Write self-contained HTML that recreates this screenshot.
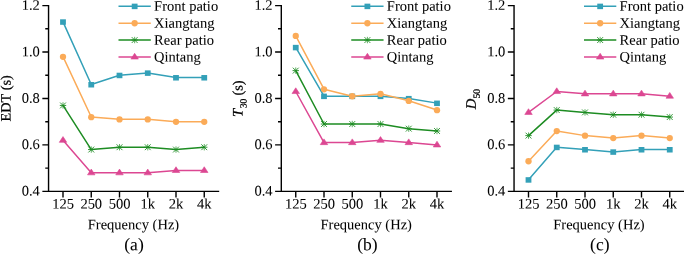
<!DOCTYPE html><html><head><meta charset="utf-8"><style>html,body{margin:0;padding:0;background:#fff;width:685px;height:254px;overflow:hidden}svg{display:block;will-change:transform}text{font-family:"Liberation Serif",serif;font-kerning:none;text-rendering:geometricPrecision}</style></head><body><svg width="685" height="254" viewBox="0 0 685 254"><g><path d="M63 21.85L91.25 84.54L119.5 75.26L147.75 72.93L176 77.58L204.25 77.58" stroke="#33a0b8" stroke-width="1.5" fill="none" stroke-linejoin="round"/><rect x="60.1" y="19.3" width="5.8" height="5.5" fill="#33a0b8"/><rect x="88.35" y="81.99" width="5.8" height="5.5" fill="#33a0b8"/><rect x="116.6" y="72.71" width="5.8" height="5.5" fill="#33a0b8"/><rect x="144.85" y="70.38" width="5.8" height="5.5" fill="#33a0b8"/><rect x="173.1" y="75.03" width="5.8" height="5.5" fill="#33a0b8"/><rect x="201.35" y="75.03" width="5.8" height="5.5" fill="#33a0b8"/><path d="M63 56.68L91.25 117.05L119.5 119.37L147.75 119.37L176 121.69L204.25 121.69" stroke="#fbab58" stroke-width="1.5" fill="none" stroke-linejoin="round"/><circle cx="63" cy="56.78" r="3.15" fill="#fbab58"/><circle cx="91.25" cy="117.15" r="3.15" fill="#fbab58"/><circle cx="119.5" cy="119.47" r="3.15" fill="#fbab58"/><circle cx="147.75" cy="119.47" r="3.15" fill="#fbab58"/><circle cx="176" cy="121.79" r="3.15" fill="#fbab58"/><circle cx="204.25" cy="121.79" r="3.15" fill="#fbab58"/><path d="M63 105.44L91.25 149.56L119.5 147.23L147.75 147.23L176 149.56L204.25 147.23" stroke="#1d8c22" stroke-width="1.5" fill="none" stroke-linejoin="round"/><path d="M59.8 105.44H66.2M60.1 102.54L65.9 108.34M60.1 108.34L65.9 102.54" stroke="#1d8c22" stroke-width="0.9" fill="none"/><path d="M63 102.24V108.64" stroke="#1d8c22" stroke-width="0.7"/><path d="M88.05 149.56H94.45M88.35 146.66L94.15 152.46M88.35 152.46L94.15 146.66" stroke="#1d8c22" stroke-width="0.9" fill="none"/><path d="M91.25 146.36V152.76" stroke="#1d8c22" stroke-width="0.7"/><path d="M116.3 147.23H122.7M116.6 144.33L122.4 150.13M116.6 150.13L122.4 144.33" stroke="#1d8c22" stroke-width="0.9" fill="none"/><path d="M119.5 144.03V150.43" stroke="#1d8c22" stroke-width="0.7"/><path d="M144.55 147.23H150.95M144.85 144.33L150.65 150.13M144.85 150.13L150.65 144.33" stroke="#1d8c22" stroke-width="0.9" fill="none"/><path d="M147.75 144.03V150.43" stroke="#1d8c22" stroke-width="0.7"/><path d="M172.8 149.56H179.2M173.1 146.66L178.9 152.46M173.1 152.46L178.9 146.66" stroke="#1d8c22" stroke-width="0.9" fill="none"/><path d="M176 146.36V152.76" stroke="#1d8c22" stroke-width="0.7"/><path d="M201.05 147.23H207.45M201.35 144.33L207.15 150.13M201.35 150.13L207.15 144.33" stroke="#1d8c22" stroke-width="0.9" fill="none"/><path d="M204.25 144.03V150.43" stroke="#1d8c22" stroke-width="0.7"/><path d="M63 140.27L91.25 172.78L119.5 172.78L147.75 172.78L176 170.45L204.25 170.45" stroke="#dc4792" stroke-width="1.5" fill="none" stroke-linejoin="round"/><path d="M63 136.57L66.75 142.32L59.25 142.32Z" fill="#dc4792" stroke="#dc4792" stroke-width="0.6" stroke-linejoin="round"/><path d="M91.25 169.08L95 174.83L87.5 174.83Z" fill="#dc4792" stroke="#dc4792" stroke-width="0.6" stroke-linejoin="round"/><path d="M119.5 169.08L123.25 174.83L115.75 174.83Z" fill="#dc4792" stroke="#dc4792" stroke-width="0.6" stroke-linejoin="round"/><path d="M147.75 169.08L151.5 174.83L144 174.83Z" fill="#dc4792" stroke="#dc4792" stroke-width="0.6" stroke-linejoin="round"/><path d="M176 166.75L179.75 172.5L172.25 172.5Z" fill="#dc4792" stroke="#dc4792" stroke-width="0.6" stroke-linejoin="round"/><path d="M204.25 166.75L208 172.5L200.5 172.5Z" fill="#dc4792" stroke="#dc4792" stroke-width="0.6" stroke-linejoin="round"/><path d="M48.55 4.9V191.35H219.2" stroke="#000" stroke-width="1.4" fill="none"/><path d="M42.35 191.35H48.55M45.25 168.13H48.55M42.35 144.91H48.55M45.25 121.69H48.55M42.35 98.47H48.55M45.25 75.26H48.55M42.35 52.04H48.55M45.25 28.82H48.55M42.35 5.6H48.55M63 191.35V197.55M91.25 191.35V197.55M119.5 191.35V197.55M147.75 191.35V197.55M176 191.35V197.55M204.25 191.35V197.55" stroke="#000" stroke-width="1.4" fill="none"/><path d="M118.5 6.2H150.8" stroke="#33a0b8" stroke-width="1.5"/><rect x="131.75" y="3.65" width="5.8" height="5.5" fill="#33a0b8"/><path d="M118.5 23.15H150.8" stroke="#fbab58" stroke-width="1.5"/><circle cx="134.65" cy="23.25" r="3.15" fill="#fbab58"/><path d="M118.5 40.05H150.8" stroke="#1d8c22" stroke-width="1.5"/><path d="M131.45 40.05H137.85M131.75 37.15L137.55 42.95M131.75 42.95L137.55 37.15" stroke="#1d8c22" stroke-width="0.9" fill="none"/><path d="M134.65 36.85V43.25" stroke="#1d8c22" stroke-width="0.7"/><path d="M118.5 57H150.8" stroke="#dc4792" stroke-width="1.5"/><path d="M134.65 53.3L138.4 59.05L130.9 59.05Z" fill="#dc4792" stroke="#dc4792" stroke-width="0.6" stroke-linejoin="round"/></g><g fill="#000" stroke="#000" stroke-width="0.05"><text x="39.85" y="195.55" font-size="14.5" text-anchor="end" transform="rotate(0.05 39.85 195.55)">0.4</text><text x="39.85" y="149.11" font-size="14.5" text-anchor="end" transform="rotate(0.05 39.85 149.11)">0.6</text><text x="39.85" y="102.67" font-size="14.5" text-anchor="end" transform="rotate(0.05 39.85 102.67)">0.8</text><text x="39.85" y="56.24" font-size="14.5" text-anchor="end" transform="rotate(0.05 39.85 56.24)">1.0</text><text x="39.85" y="9.8" font-size="14.5" text-anchor="end" transform="rotate(0.05 39.85 9.8)">1.2</text><text x="63" y="208.5" font-size="14.5" text-anchor="middle" transform="rotate(0.05 63 208.5)">125</text><text x="91.25" y="208.5" font-size="14.5" text-anchor="middle" transform="rotate(0.05 91.25 208.5)">250</text><text x="119.5" y="208.5" font-size="14.5" text-anchor="middle" transform="rotate(0.05 119.5 208.5)">500</text><text x="147.75" y="208.5" font-size="14.5" text-anchor="middle" transform="rotate(0.05 147.75 208.5)">1k</text><text x="176" y="208.5" font-size="14.5" text-anchor="middle" transform="rotate(0.05 176 208.5)">2k</text><text x="204.25" y="208.5" font-size="14.5" text-anchor="middle" transform="rotate(0.05 204.25 208.5)">4k</text><text x="133.47" y="229.2" font-size="14.5" text-anchor="middle" transform="rotate(0.05 133.47 229.2)">Frequency (Hz)</text><text x="134.03" y="250.3" font-size="17.5" text-anchor="middle" transform="rotate(0.05 134.03 250.3)">(a)</text><text x="154.1" y="10.7" font-size="14.5" transform="rotate(0.05 154.1 10.7)">Front patio</text><text x="154.1" y="27.7" font-size="14.5" transform="rotate(0.05 154.1 27.7)">Xiangtang</text><text x="154.1" y="44.7" font-size="14.5" transform="rotate(0.05 154.1 44.7)">Rear patio</text><text x="154.1" y="61.6" font-size="14.5" transform="rotate(0.05 154.1 61.6)">Qintang</text></g><g><path d="M295.75 47.39L324 96.15L352.25 96.15L380.5 96.15L408.75 98.47L437 103.12" stroke="#33a0b8" stroke-width="1.5" fill="none" stroke-linejoin="round"/><rect x="292.85" y="44.84" width="5.8" height="5.5" fill="#33a0b8"/><rect x="321.1" y="93.6" width="5.8" height="5.5" fill="#33a0b8"/><rect x="349.35" y="93.6" width="5.8" height="5.5" fill="#33a0b8"/><rect x="377.6" y="93.6" width="5.8" height="5.5" fill="#33a0b8"/><rect x="405.85" y="95.92" width="5.8" height="5.5" fill="#33a0b8"/><rect x="434.1" y="100.57" width="5.8" height="5.5" fill="#33a0b8"/><path d="M295.75 35.78L324 89.19L352.25 96.15L380.5 93.83L408.75 100.8L437 110.08" stroke="#fbab58" stroke-width="1.5" fill="none" stroke-linejoin="round"/><circle cx="295.75" cy="35.88" r="3.15" fill="#fbab58"/><circle cx="324" cy="89.29" r="3.15" fill="#fbab58"/><circle cx="352.25" cy="96.25" r="3.15" fill="#fbab58"/><circle cx="380.5" cy="93.93" r="3.15" fill="#fbab58"/><circle cx="408.75" cy="100.9" r="3.15" fill="#fbab58"/><circle cx="437" cy="110.18" r="3.15" fill="#fbab58"/><path d="M295.75 70.61L324 124.02L352.25 124.02L380.5 124.02L408.75 128.66L437 130.98" stroke="#1d8c22" stroke-width="1.5" fill="none" stroke-linejoin="round"/><path d="M292.55 70.61H298.95M292.85 67.71L298.65 73.51M292.85 73.51L298.65 67.71" stroke="#1d8c22" stroke-width="0.9" fill="none"/><path d="M295.75 67.41V73.81" stroke="#1d8c22" stroke-width="0.7"/><path d="M320.8 124.02H327.2M321.1 121.12L326.9 126.92M321.1 126.92L326.9 121.12" stroke="#1d8c22" stroke-width="0.9" fill="none"/><path d="M324 120.82V127.22" stroke="#1d8c22" stroke-width="0.7"/><path d="M349.05 124.02H355.45M349.35 121.12L355.15 126.92M349.35 126.92L355.15 121.12" stroke="#1d8c22" stroke-width="0.9" fill="none"/><path d="M352.25 120.82V127.22" stroke="#1d8c22" stroke-width="0.7"/><path d="M377.3 124.02H383.7M377.6 121.12L383.4 126.92M377.6 126.92L383.4 121.12" stroke="#1d8c22" stroke-width="0.9" fill="none"/><path d="M380.5 120.82V127.22" stroke="#1d8c22" stroke-width="0.7"/><path d="M405.55 128.66H411.95M405.85 125.76L411.65 131.56M405.85 131.56L411.65 125.76" stroke="#1d8c22" stroke-width="0.9" fill="none"/><path d="M408.75 125.46V131.86" stroke="#1d8c22" stroke-width="0.7"/><path d="M433.8 130.98H440.2M434.1 128.08L439.9 133.88M434.1 133.88L439.9 128.08" stroke="#1d8c22" stroke-width="0.9" fill="none"/><path d="M437 127.78V134.18" stroke="#1d8c22" stroke-width="0.7"/><path d="M295.75 91.51L324 142.59L352.25 142.59L380.5 140.27L408.75 142.59L437 144.91" stroke="#dc4792" stroke-width="1.5" fill="none" stroke-linejoin="round"/><path d="M295.75 87.81L299.5 93.56L292 93.56Z" fill="#dc4792" stroke="#dc4792" stroke-width="0.6" stroke-linejoin="round"/><path d="M324 138.89L327.75 144.64L320.25 144.64Z" fill="#dc4792" stroke="#dc4792" stroke-width="0.6" stroke-linejoin="round"/><path d="M352.25 138.89L356 144.64L348.5 144.64Z" fill="#dc4792" stroke="#dc4792" stroke-width="0.6" stroke-linejoin="round"/><path d="M380.5 136.57L384.25 142.32L376.75 142.32Z" fill="#dc4792" stroke="#dc4792" stroke-width="0.6" stroke-linejoin="round"/><path d="M408.75 138.89L412.5 144.64L405 144.64Z" fill="#dc4792" stroke="#dc4792" stroke-width="0.6" stroke-linejoin="round"/><path d="M437 141.21L440.75 146.96L433.25 146.96Z" fill="#dc4792" stroke="#dc4792" stroke-width="0.6" stroke-linejoin="round"/><path d="M281.3 4.9V191.35H451.95" stroke="#000" stroke-width="1.4" fill="none"/><path d="M275.1 191.35H281.3M278 168.13H281.3M275.1 144.91H281.3M278 121.69H281.3M275.1 98.47H281.3M278 75.26H281.3M275.1 52.04H281.3M278 28.82H281.3M275.1 5.6H281.3M295.75 191.35V197.55M324 191.35V197.55M352.25 191.35V197.55M380.5 191.35V197.55M408.75 191.35V197.55M437 191.35V197.55" stroke="#000" stroke-width="1.4" fill="none"/><path d="M351.25 6.2H383.55" stroke="#33a0b8" stroke-width="1.5"/><rect x="364.5" y="3.65" width="5.8" height="5.5" fill="#33a0b8"/><path d="M351.25 23.15H383.55" stroke="#fbab58" stroke-width="1.5"/><circle cx="367.4" cy="23.25" r="3.15" fill="#fbab58"/><path d="M351.25 40.05H383.55" stroke="#1d8c22" stroke-width="1.5"/><path d="M364.2 40.05H370.6M364.5 37.15L370.3 42.95M364.5 42.95L370.3 37.15" stroke="#1d8c22" stroke-width="0.9" fill="none"/><path d="M367.4 36.85V43.25" stroke="#1d8c22" stroke-width="0.7"/><path d="M351.25 57H383.55" stroke="#dc4792" stroke-width="1.5"/><path d="M367.4 53.3L371.15 59.05L363.65 59.05Z" fill="#dc4792" stroke="#dc4792" stroke-width="0.6" stroke-linejoin="round"/></g><g fill="#000" stroke="#000" stroke-width="0.05"><text x="272.6" y="195.55" font-size="14.5" text-anchor="end" transform="rotate(0.05 272.6 195.55)">0.4</text><text x="272.6" y="149.11" font-size="14.5" text-anchor="end" transform="rotate(0.05 272.6 149.11)">0.6</text><text x="272.6" y="102.67" font-size="14.5" text-anchor="end" transform="rotate(0.05 272.6 102.67)">0.8</text><text x="272.6" y="56.24" font-size="14.5" text-anchor="end" transform="rotate(0.05 272.6 56.24)">1.0</text><text x="272.6" y="9.8" font-size="14.5" text-anchor="end" transform="rotate(0.05 272.6 9.8)">1.2</text><text x="295.75" y="208.5" font-size="14.5" text-anchor="middle" transform="rotate(0.05 295.75 208.5)">125</text><text x="324" y="208.5" font-size="14.5" text-anchor="middle" transform="rotate(0.05 324 208.5)">250</text><text x="352.25" y="208.5" font-size="14.5" text-anchor="middle" transform="rotate(0.05 352.25 208.5)">500</text><text x="380.5" y="208.5" font-size="14.5" text-anchor="middle" transform="rotate(0.05 380.5 208.5)">1k</text><text x="408.75" y="208.5" font-size="14.5" text-anchor="middle" transform="rotate(0.05 408.75 208.5)">2k</text><text x="437" y="208.5" font-size="14.5" text-anchor="middle" transform="rotate(0.05 437 208.5)">4k</text><text x="366.23" y="229.2" font-size="14.5" text-anchor="middle" transform="rotate(0.05 366.23 229.2)">Frequency (Hz)</text><text x="367.43" y="250.3" font-size="17.5" text-anchor="middle" transform="rotate(0.05 367.43 250.3)">(b)</text><text x="386.85" y="10.7" font-size="14.5" transform="rotate(0.05 386.85 10.7)">Front patio</text><text x="386.85" y="27.7" font-size="14.5" transform="rotate(0.05 386.85 27.7)">Xiangtang</text><text x="386.85" y="44.7" font-size="14.5" transform="rotate(0.05 386.85 44.7)">Rear patio</text><text x="386.85" y="61.6" font-size="14.5" transform="rotate(0.05 386.85 61.6)">Qintang</text></g><g><path d="M528.5 179.74L556.75 147.23L585 149.56L613.25 151.88L641.5 149.56L669.75 149.56" stroke="#33a0b8" stroke-width="1.5" fill="none" stroke-linejoin="round"/><rect x="525.6" y="177.19" width="5.8" height="5.5" fill="#33a0b8"/><rect x="553.85" y="144.68" width="5.8" height="5.5" fill="#33a0b8"/><rect x="582.1" y="147.01" width="5.8" height="5.5" fill="#33a0b8"/><rect x="610.35" y="149.33" width="5.8" height="5.5" fill="#33a0b8"/><rect x="638.6" y="147.01" width="5.8" height="5.5" fill="#33a0b8"/><rect x="666.85" y="147.01" width="5.8" height="5.5" fill="#33a0b8"/><path d="M528.5 161.17L556.75 130.98L585 135.62L613.25 137.95L641.5 135.62L669.75 137.95" stroke="#fbab58" stroke-width="1.5" fill="none" stroke-linejoin="round"/><circle cx="528.5" cy="161.27" r="3.15" fill="#fbab58"/><circle cx="556.75" cy="131.08" r="3.15" fill="#fbab58"/><circle cx="585" cy="135.72" r="3.15" fill="#fbab58"/><circle cx="613.25" cy="138.05" r="3.15" fill="#fbab58"/><circle cx="641.5" cy="135.72" r="3.15" fill="#fbab58"/><circle cx="669.75" cy="138.05" r="3.15" fill="#fbab58"/><path d="M528.5 135.62L556.75 110.08L585 112.41L613.25 114.73L641.5 114.73L669.75 117.05" stroke="#1d8c22" stroke-width="1.5" fill="none" stroke-linejoin="round"/><path d="M525.3 135.62H531.7M525.6 132.72L531.4 138.53M525.6 138.53L531.4 132.72" stroke="#1d8c22" stroke-width="0.9" fill="none"/><path d="M528.5 132.43V138.82" stroke="#1d8c22" stroke-width="0.7"/><path d="M553.55 110.08H559.95M553.85 107.18L559.65 112.98M553.85 112.98L559.65 107.18" stroke="#1d8c22" stroke-width="0.9" fill="none"/><path d="M556.75 106.88V113.28" stroke="#1d8c22" stroke-width="0.7"/><path d="M581.8 112.41H588.2M582.1 109.51L587.9 115.31M582.1 115.31L587.9 109.51" stroke="#1d8c22" stroke-width="0.9" fill="none"/><path d="M585 109.21V115.61" stroke="#1d8c22" stroke-width="0.7"/><path d="M610.05 114.73H616.45M610.35 111.83L616.15 117.63M610.35 117.63L616.15 111.83" stroke="#1d8c22" stroke-width="0.9" fill="none"/><path d="M613.25 111.53V117.93" stroke="#1d8c22" stroke-width="0.7"/><path d="M638.3 114.73H644.7M638.6 111.83L644.4 117.63M638.6 117.63L644.4 111.83" stroke="#1d8c22" stroke-width="0.9" fill="none"/><path d="M641.5 111.53V117.93" stroke="#1d8c22" stroke-width="0.7"/><path d="M666.55 117.05H672.95M666.85 114.15L672.65 119.95M666.85 119.95L672.65 114.15" stroke="#1d8c22" stroke-width="0.9" fill="none"/><path d="M669.75 113.85V120.25" stroke="#1d8c22" stroke-width="0.7"/><path d="M528.5 112.41L556.75 91.51L585 93.83L613.25 93.83L641.5 93.83L669.75 96.15" stroke="#dc4792" stroke-width="1.5" fill="none" stroke-linejoin="round"/><path d="M528.5 108.71L532.25 114.46L524.75 114.46Z" fill="#dc4792" stroke="#dc4792" stroke-width="0.6" stroke-linejoin="round"/><path d="M556.75 87.81L560.5 93.56L553 93.56Z" fill="#dc4792" stroke="#dc4792" stroke-width="0.6" stroke-linejoin="round"/><path d="M585 90.13L588.75 95.88L581.25 95.88Z" fill="#dc4792" stroke="#dc4792" stroke-width="0.6" stroke-linejoin="round"/><path d="M613.25 90.13L617 95.88L609.5 95.88Z" fill="#dc4792" stroke="#dc4792" stroke-width="0.6" stroke-linejoin="round"/><path d="M641.5 90.13L645.25 95.88L637.75 95.88Z" fill="#dc4792" stroke="#dc4792" stroke-width="0.6" stroke-linejoin="round"/><path d="M669.75 92.45L673.5 98.2L666 98.2Z" fill="#dc4792" stroke="#dc4792" stroke-width="0.6" stroke-linejoin="round"/><path d="M514.05 4.9V191.35H684" stroke="#000" stroke-width="1.4" fill="none"/><path d="M507.85 191.35H514.05M510.75 168.13H514.05M507.85 144.91H514.05M510.75 121.69H514.05M507.85 98.47H514.05M510.75 75.26H514.05M507.85 52.04H514.05M510.75 28.82H514.05M507.85 5.6H514.05M528.5 191.35V197.55M556.75 191.35V197.55M585 191.35V197.55M613.25 191.35V197.55M641.5 191.35V197.55M669.75 191.35V197.55" stroke="#000" stroke-width="1.4" fill="none"/><path d="M584 6.2H616.3" stroke="#33a0b8" stroke-width="1.5"/><rect x="597.25" y="3.65" width="5.8" height="5.5" fill="#33a0b8"/><path d="M584 23.15H616.3" stroke="#fbab58" stroke-width="1.5"/><circle cx="600.15" cy="23.25" r="3.15" fill="#fbab58"/><path d="M584 40.05H616.3" stroke="#1d8c22" stroke-width="1.5"/><path d="M596.95 40.05H603.35M597.25 37.15L603.05 42.95M597.25 42.95L603.05 37.15" stroke="#1d8c22" stroke-width="0.9" fill="none"/><path d="M600.15 36.85V43.25" stroke="#1d8c22" stroke-width="0.7"/><path d="M584 57H616.3" stroke="#dc4792" stroke-width="1.5"/><path d="M600.15 53.3L603.9 59.05L596.4 59.05Z" fill="#dc4792" stroke="#dc4792" stroke-width="0.6" stroke-linejoin="round"/></g><g fill="#000" stroke="#000" stroke-width="0.05"><text x="505.35" y="195.55" font-size="14.5" text-anchor="end" transform="rotate(0.05 505.35 195.55)">0.4</text><text x="505.35" y="149.11" font-size="14.5" text-anchor="end" transform="rotate(0.05 505.35 149.11)">0.6</text><text x="505.35" y="102.67" font-size="14.5" text-anchor="end" transform="rotate(0.05 505.35 102.67)">0.8</text><text x="505.35" y="56.24" font-size="14.5" text-anchor="end" transform="rotate(0.05 505.35 56.24)">1.0</text><text x="505.35" y="9.8" font-size="14.5" text-anchor="end" transform="rotate(0.05 505.35 9.8)">1.2</text><text x="528.5" y="208.5" font-size="14.5" text-anchor="middle" transform="rotate(0.05 528.5 208.5)">125</text><text x="556.75" y="208.5" font-size="14.5" text-anchor="middle" transform="rotate(0.05 556.75 208.5)">250</text><text x="585" y="208.5" font-size="14.5" text-anchor="middle" transform="rotate(0.05 585 208.5)">500</text><text x="613.25" y="208.5" font-size="14.5" text-anchor="middle" transform="rotate(0.05 613.25 208.5)">1k</text><text x="641.5" y="208.5" font-size="14.5" text-anchor="middle" transform="rotate(0.05 641.5 208.5)">2k</text><text x="669.75" y="208.5" font-size="14.5" text-anchor="middle" transform="rotate(0.05 669.75 208.5)">4k</text><text x="598.98" y="229.2" font-size="14.5" text-anchor="middle" transform="rotate(0.05 598.98 229.2)">Frequency (Hz)</text><text x="599.83" y="250.3" font-size="17.5" text-anchor="middle" transform="rotate(0.05 599.83 250.3)">(c)</text><text x="619.6" y="10.7" font-size="14.5" transform="rotate(0.05 619.6 10.7)">Front patio</text><text x="619.6" y="27.7" font-size="14.5" transform="rotate(0.05 619.6 27.7)">Xiangtang</text><text x="619.6" y="44.7" font-size="14.5" transform="rotate(0.05 619.6 44.7)">Rear patio</text><text x="619.6" y="61.6" font-size="14.5" transform="rotate(0.05 619.6 61.6)">Qintang</text></g><g fill="#000" stroke="#000" stroke-width="0.25"><text transform="translate(10.5 121.4) rotate(-89.95)" font-size="14.2">EDT (s)</text><text transform="translate(242.6 116.9) rotate(-89.95)" font-size="14.5"><tspan font-style="italic">T</tspan><tspan font-size="9.6" dy="4" dx="0.6">30</tspan><tspan dy="-4" dx="-0.6"> (s)</tspan></text><text transform="translate(475.7 109.2) rotate(-89.95)" font-size="14.5"><tspan font-style="italic">D</tspan><tspan font-size="9.6" dy="4" dx="0.2">50</tspan></text></g></svg></body></html>
